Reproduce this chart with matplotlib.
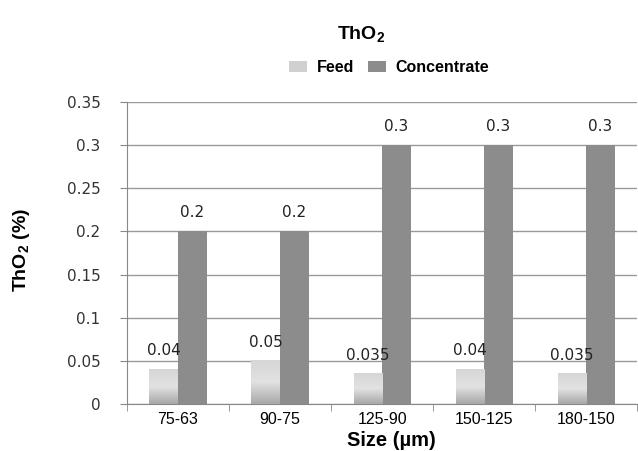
import numpy as np
import matplotlib.pyplot as plt
from matplotlib.colors import LinearSegmentedColormap
from matplotlib.patches import Patch

plt.rcParams['mathtext.fontset'] = 'custom'
plt.rcParams['mathtext.rm'] = 'Liberation Sans'
plt.rcParams['mathtext.bf'] = 'Liberation Sans:bold'

sizes = ['75-63', '90-75', '125-90', '150-125', '180-150']
feed = [0.04, 0.05, 0.035, 0.04, 0.035]
concentrate = [0.2, 0.2, 0.3, 0.3, 0.3]
feed_labels = ['0.04', '0.05', '0.035', '0.04', '0.035']
conc_labels = ['0.2', '0.2', '0.3', '0.3', '0.3']

fig = plt.figure(figsize=(6.38, 4.51), dpi=100)
ax = fig.add_axes([0.199, 0.104, 0.800, 0.670])

x = np.arange(len(sizes))
w = 0.28
b1 = ax.bar(x - w / 2, feed, w, color='#d0d0d0', zorder=2)
b2 = ax.bar(x + w / 2, concentrate, w, color='#8c8c8c', zorder=2)

# gradient fill on the feed bars (light on top, greyer at the bottom)
cm = LinearSegmentedColormap.from_list('feed', ['#d6d6d6', '#e2e2e2', '#a8a8a8'])
grad = np.linspace(0, 1, 64).reshape(-1, 1)
for r in b1:
    ax.imshow(grad, cmap=cm, aspect='auto', origin='upper',
              extent=[r.get_x(), r.get_x() + r.get_width(), 0, r.get_height()], zorder=3)

for r, t in zip(b1, feed_labels):
    ax.text(r.get_x() + r.get_width() / 2, r.get_height() + 0.013, t,
            ha='center', va='bottom', fontsize=11, color='#222222', family='DejaVu Sans')
for r, t in zip(b2, conc_labels):
    ax.text(r.get_x() + r.get_width() / 2, r.get_height() + 0.013, t,
            ha='center', va='bottom', fontsize=11, color='#222222', family='DejaVu Sans')

ax.set_xlim(-0.5, len(sizes) - 0.5)
ax.set_ylim(0, 0.35)
ax.set_yticks(np.arange(0, 0.351, 0.05))
ax.set_yticklabels(['0', '0.05', '0.1', '0.15', '0.2', '0.25', '0.3', '0.35'],
                   fontsize=11, color='#333333', family='DejaVu Sans')
ax.yaxis.grid(True, color='#999999', linewidth=1)
ax.set_axisbelow(True)

ax.set_xticks(x)
ax.set_xticklabels(sizes, fontsize=11.5, family='Liberation Sans')
ax.tick_params(axis='x', length=0, pad=6)
ax.set_xticks(np.arange(-0.5, len(sizes), 1), minor=True)
ax.tick_params(axis='x', which='minor', length=5, color='#888888')
ax.tick_params(axis='y', length=5, color='#888888', pad=14)

for s in ['top', 'right']:
    ax.spines[s].set_visible(False)
ax.spines['left'].set_color('#888888')
ax.spines['bottom'].set_color('#888888')

ax.set_xlabel('Size (µm)', fontsize=14.5, fontweight='bold', family='Liberation Sans')
ax.xaxis.set_label_coords(0.518, -0.088)
ax.set_ylabel(r'ThO$_\mathbf{2}$ (%)', fontsize=14, fontweight='bold', family='Liberation Sans')
ax.yaxis.set_label_coords(-0.186, 0.51)

fig.text(0.566, 0.922, r'ThO$_\mathbf{2}$', ha='center', va='center', fontsize=14,
         fontweight='bold', family='Liberation Sans')

handles = [Patch(facecolor='#d0d0d0'), Patch(facecolor='#8c8c8c')]
fig.legend(handles, ['Feed', 'Concentrate'], loc='center', bbox_to_anchor=(0.61, 0.85),
           ncol=2, frameon=False, prop={'weight': 'bold', 'size': 11.5, 'family': 'Liberation Sans'},
           handlelength=1.1, handleheight=0.7, columnspacing=0.9, handletextpad=0.6)

fig.savefig('out.png', dpi=100)
